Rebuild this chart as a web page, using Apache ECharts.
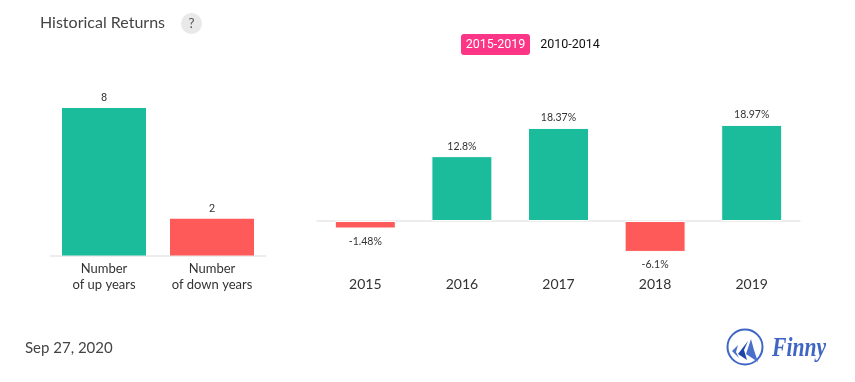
<!DOCTYPE html>
<html><head><meta charset="utf-8">
<style>html,body{margin:0;padding:0;background:#fff}#c{width:855px;height:382px}</style>
<script src="https://cdn.jsdelivr.net/npm/echarts@6/dist/echarts.min.js"></script>
</head><body><div id="c"></div>
<script>
const countCategories = ['Number\nof up years', 'Number\nof down years'];
const countValues = [8, 2];
const years = ['2015', '2016', '2017', '2018', '2019'];
const returns = [-1.48, 12.8, 18.37, -6.1, 18.97];
const returnLabels = ['-1.48%', '12.8%', '18.37%', '-6.1%', '18.97%'];
const titleText = 'Historical Returns';
const dateText = 'Sep 27, 2020';
const activeRange = '2015-2019';
const otherRange = '2010-2014';

const GREEN = '#1abc9c', RED = '#ff5a5a';
const colour = v => v >= 0 ? GREEN : RED;
const chart = echarts.init(document.getElementById('c'), null, {renderer: 'canvas'});
const labelBase = {show: true, fontFamily: 'Lato', fontSize: 10.5, color: '#333'};

chart.setOption({
  animation: false,
  backgroundColor: '#fff',
  grid: [
    {left: 50, width: 216, top: 108, height: 147.5},
    {left: 317, width: 483, top: 119.67, height: 152}
  ],
  xAxis: [
    {gridIndex: 0, type: 'category', data: countCategories,
     axisLine: {lineStyle: {color: '#e8e8e8', width: 1.5}}, axisTick: {show: false},
     axisLabel: {fontFamily: 'Lato', fontSize: 13, color: '#333', lineHeight: 16, margin: 5, interval: 0}},
    {gridIndex: 1, type: 'category', data: years, position: 'bottom',
     axisLine: {show: false, onZero: false}, axisTick: {show: false},
     axisLabel: {fontFamily: 'Lato', fontSize: 14, color: '#333', margin: 5.5, interval: 0}},
    {gridIndex: 1, type: 'category', data: years,
     axisLine: {onZero: true, lineStyle: {color: '#e8e8e8', width: 1.5}}, axisTick: {show: false},
     axisLabel: {show: false}}
  ],
  yAxis: [
    {gridIndex: 0, type: 'value', min: 0, max: 8, show: false},
    {gridIndex: 1, type: 'value', min: -10, max: 20, show: false}
  ],
  series: [
    {type: 'bar', xAxisIndex: 0, yAxisIndex: 0, barWidth: 84,
     data: countValues.map((v, i) => ({value: v, itemStyle: {color: i === 0 ? GREEN : RED}})),
     label: {...labelBase, position: 'top', fontFamily: 'Roboto', fontSize: 11, distance: 4}},
    {type: 'bar', xAxisIndex: 2, yAxisIndex: 1, barWidth: 61,
     data: returns.map((v, i) => ({
       value: v,
       itemStyle: {color: colour(v), borderColor: '#fff', borderWidth: 1},
       label: {position: v >= 0 ? 'top' : 'bottom', distance: v >= 0 ? 4.5 : 7.5, formatter: returnLabels[i]}
     })),
     label: {...labelBase}}
  ],
  graphic: [
    {type: 'text', left: 40, top: 15, style: {text: titleText, font: '16px Lato', fill: '#444'}},
    {type: 'circle', shape: {cx: 191.5, cy: 23.5, r: 10.5}, style: {fill: '#e9e9e9'}},
    {type: 'text', x: 191.5, y: 23.5, style: {text: '?', font: '13.5px Lato', fill: '#555', align: 'center', verticalAlign: 'middle'}},
    {type: 'rect', shape: {x: 461, y: 34, width: 69, height: 21, r: 3}, style: {fill: '#fd3586'}},
    {type: 'text', x: 495.5, y: 44.5, style: {text: activeRange, font: '12.5px Roboto', fill: '#fff', align: 'center', verticalAlign: 'middle'}},
    {type: 'text', x: 570, y: 44.5, style: {text: otherRange, font: '12.5px Roboto', fill: '#111', align: 'center', verticalAlign: 'middle'}},
    {type: 'text', left: 25, top: 341, style: {text: dateText, font: '15px Lato', fill: '#444'}},
    {type: 'circle', shape: {cx: 745, cy: 347, r: 17.5}, style: {fill: 'none', stroke: '#3f66c4', lineWidth: 2}},
    {type: 'polygon', shape: {points: [[732,351],[738,345],[736,352],[739,358]]}, style: {fill: '#4a70cc'}},
    {type: 'polygon', shape: {points: [[738,354],[748,341],[744,350],[747,360]]}, style: {fill: '#1f45a8'}},
    {type: 'polygon', shape: {points: [[746,354],[751,339],[754,350],[758,362]]}, style: {fill: '#4a70cc'}},
    {type: 'text', x: 772, y: 349, scaleX: 0.8, style: {text: 'Finny', font: 'italic bold 27px "Liberation Serif"', fill: '#3f66c4', verticalAlign: 'middle'}}
  ]
});
</script></body></html>
